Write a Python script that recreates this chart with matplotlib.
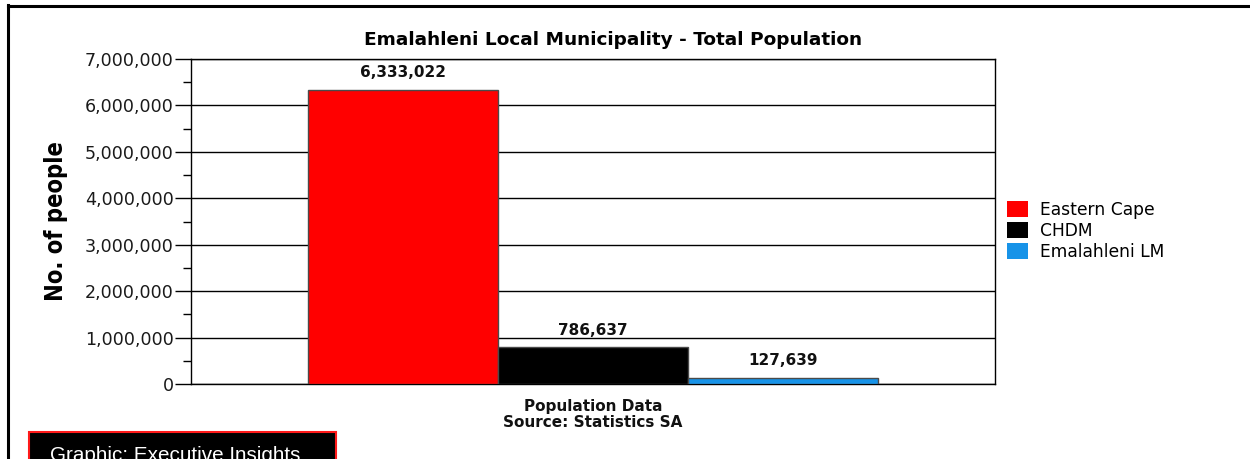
import matplotlib
matplotlib.use("Agg")
import matplotlib.pyplot as plt
from matplotlib import font_manager
from matplotlib.patches import Rectangle
from matplotlib.lines import Line2D
from matplotlib.ticker import FuncFormatter, MultipleLocator

# Data
categories = ["Eastern Cape", "CHDM", "Emalahleni LM"]
populations = [6333022, 786637, 127639]
bar_colors = ["#ff0000", "#000000", "#1793e8"]
title = "Emalahleni Local Municipality - Total Population"
ylabel = "No. of people"
xlabel_lines = ["Population Data", "Source: Statistics SA"]
credit = "Graphic: Executive Insights"


def narrow_bold_font():
    """Return (family, stretch) for a condensed bold face if one exists."""
    for f in font_manager.fontManager.ttflist:
        if f.name == "Liberation Sans Narrow" and f.weight in ("bold", 700):
            return "Liberation Sans Narrow", "normal"
    for f in font_manager.fontManager.ttflist:
        if f.name == "DejaVu Sans" and f.stretch == "condensed" and f.weight in ("bold", 700):
            return "DejaVu Sans", "condensed"
    return "Liberation Sans", "normal"


W, H = 1250, 459
fig = plt.figure(figsize=(W / 100, H / 100), dpi=100)
fig.patch.set_facecolor("white")

# Plot area in pixel units -> figure fractions
left_px, right_px, top_px, bottom_px = 191, 995, 59, 384
ax = fig.add_axes([left_px / W, (H - bottom_px) / H,
                   (right_px - left_px) / W, (bottom_px - top_px) / H])

xpos = list(range(-1, len(categories) - 1))
bars = ax.bar(xpos, populations, width=1.0, color=bar_colors,
              edgecolor="#4a4a4a", linewidth=1.0, zorder=3)

half_span = 3 * (right_px - left_px) / 570 / 2
ax.set_xlim(-half_span, half_span)
ax.set_ylim(0, 7000000)
ax.yaxis.set_major_locator(MultipleLocator(1000000))
ax.yaxis.set_minor_locator(MultipleLocator(500000))
ax.yaxis.set_major_formatter(FuncFormatter(lambda v, p: f"{int(v):,}"))
ax.tick_params(axis="y", which="major", length=11.5, width=1, pad=1,
               labelsize=12.6, colors="black", labelcolor="#1a1a1a")
ax.tick_params(axis="y", which="minor", length=5.8, width=1, colors="black")
ax.set_xticks([])
ax.grid(axis="y", which="major", color="black", linewidth=1.0, zorder=0)
ax.set_axisbelow(True)
for s in ax.spines.values():
    s.set_color("black")
    s.set_linewidth(1.0)

# Value labels above bars
for b, v in zip(bars, populations):
    ax.annotate(f"{v:,}", (b.get_x() + b.get_width() / 2, v),
                xytext=(0, 7), textcoords="offset points",
                ha="center", va="bottom", fontsize=11,
                fontweight="bold", color="#111111", zorder=5)

# Category caption under the axis
ax.text(0.5, -0.045, "\n".join(xlabel_lines), transform=ax.transAxes,
        ha="center", va="top", fontsize=11, fontweight="bold",
        linespacing=1.1, color="#111111")

# Title
fig.text(613 / W, (H - 40) / H, title, ha="center", va="center",
         fontsize=13.3, fontweight="bold", family="DejaVu Sans")

# Y label in a condensed bold face where available, sized to about 160 px
yl_family, yl_stretch = narrow_bold_font()
ytxt = fig.text(56 / W, (H - 221) / H, ylabel, rotation=90, ha="center",
                va="center", fontsize=20, fontweight="bold",
                family=yl_family, fontstretch=yl_stretch)
renderer = fig.canvas.get_renderer()
span = ytxt.get_window_extent(renderer).height
ytxt.set_fontsize(20 * 160 / span)

# Legend
handles = [Rectangle((0, 0), 1, 1, facecolor=c, edgecolor="none") for c in bar_colors]
fig.legend(handles, categories, loc="upper left",
           bbox_to_anchor=(1007 / W, (H - 201) / H), frameon=False,
           fontsize=12.3, handlelength=1.23, handleheight=1.05,
           handletextpad=0.70, labelspacing=0.17, borderpad=0, borderaxespad=0)

# Outer frame lines (top and left)
fig.add_artist(Line2D([8 / W, 1.0], [(H - 6) / H, (H - 6) / H],
                      transform=fig.transFigure, color="black", linewidth=2.2))
fig.add_artist(Line2D([8 / W, 8 / W], [0, (H - 5) / H],
                      transform=fig.transFigure, color="black", linewidth=2.2))

# Credit box at the bottom left
fig.add_artist(Rectangle((29 / W, -20 / H), 307 / W, (27 + 20) / H,
                         transform=fig.transFigure, facecolor="black",
                         edgecolor="#ff1a1a", linewidth=1.5))
fig.text(50 / W, -2 / H, credit, ha="left", va="baseline", color="white",
         fontsize=14.9, family=["Liberation Sans", "DejaVu Sans"])

fig.savefig("out.png", dpi=100, facecolor="white")
